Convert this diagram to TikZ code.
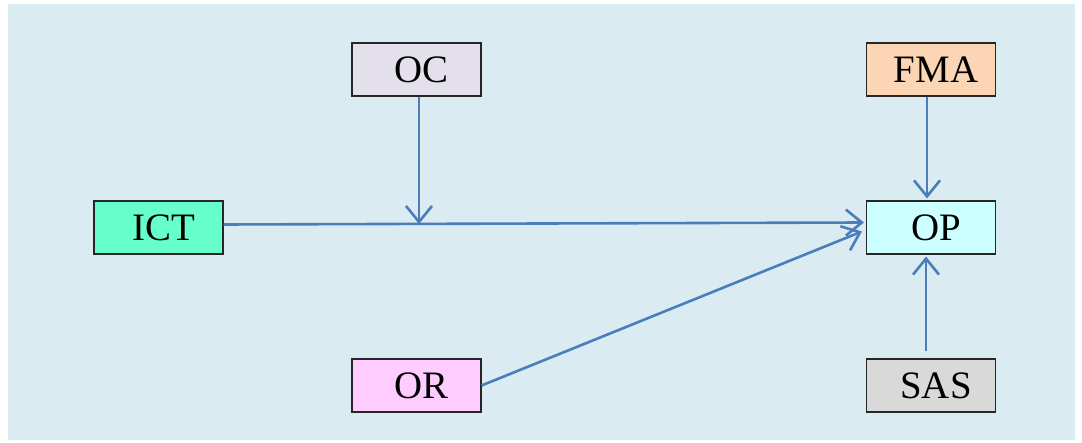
\documentclass[tikz,border=0pt]{standalone}
\usepackage{fontspec}
\setmainfont{Liberation Serif}
\usetikzlibrary{arrows.meta}
\definecolor{bgc}{HTML}{DAECF2}
\definecolor{arr}{HTML}{4A7EBB}
\definecolor{cOC}{HTML}{E3E0EC}
\definecolor{cFMA}{HTML}{FCD5B4}
\definecolor{cICT}{HTML}{66FFCC}
\definecolor{cOP}{HTML}{CCFFFF}
\definecolor{cOR}{HTML}{FFCCFF}
\definecolor{cSAS}{HTML}{D9D9D9}
\tikzset{
  box/.style={draw=black!85, line width=1.1bp, minimum width=129bp, minimum height=53bp, inner sep=0pt, font=\fontsize{39}{42}\selectfont, execute at begin node={\hspace*{10bp}}},
  conn/.style={draw=arr, line width=2.6bp, -{Straight Barb[length=16bp, width=26bp, line width=2.6bp]}}
}
\begin{document}
\begin{tikzpicture}[x=1bp, y=-1bp]
\useasboundingbox (0,0) rectangle (1082,443);
\fill[bgc] (8,4) rectangle (1075,440);
\node[box, fill=cOC] (OC) at (416.5,69.5) {OC};
\node[box, fill=cFMA] (FMA) at (931,69.5) {FMA};
\node[box, fill=cICT] (ICT) at (158.5,227.5) {ICT};
\node[box, fill=cOP] (OP) at (931,227.5) {OP};
\node[box, fill=cOR] (OR) at (416.5,385.5) {OR};
\node[box, fill=cSAS] (SAS) at (931,385.5) {SAS};
\coordinate (J) at (419,224);
\draw[conn] (ICT.east |- 0,224.5) -- ([xshift=-2bp,yshift=5bp]OP.west);
\draw[conn] (OC.south -| J) -- (J);
\draw[conn] (FMA.south -| 927,0) -- ([yshift=2bp]OP.north -| 927,0);
\draw[conn] ([yshift=7bp]SAS.north -| 926,0) -- ([yshift=-2bp]OP.south -| 926,0);
\draw[conn] (OR.east) -- ([xshift=-4bp,yshift=-4bp]OP.west);
\end{tikzpicture}
\end{document}
